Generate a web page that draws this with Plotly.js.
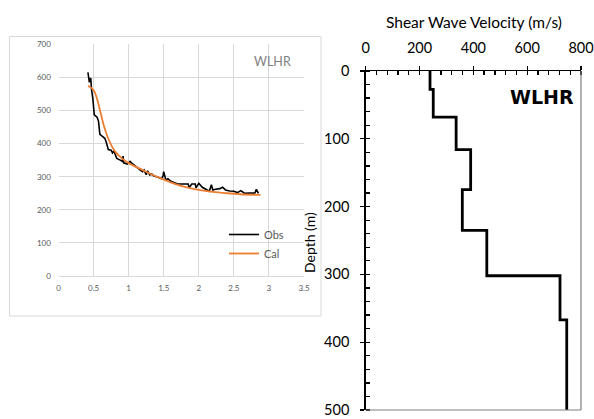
<!DOCTYPE html>
<html>
<head>
<meta charset="utf-8">
<script src="https://cdn.plot.ly/plotly-3.0.1.min.js"></script>
<style>html,body{margin:0;padding:0;background:#fff;}#chart{width:594px;height:419px;}</style>
</head>
<body>
<div id="chart"></div>
<script>
// Left panel: observed vs calculated (x = period, y = velocity)
const obsX = [0.42,0.44,0.46,0.47,0.49,0.51,0.55,0.57,0.59,0.62,0.66,0.68,0.71,0.75,0.77,0.79,0.81,0.83,0.88,0.91,0.92,0.93,0.98,1.02,1.04,1.08,1.12,1.15,1.18,1.2,1.22,1.25,1.27,1.3,1.33,1.36,1.4,1.44,1.47,1.49,1.5,1.53,1.56,1.6,1.65,1.7,1.75,1.8,1.85,1.86,1.9,1.95,1.96,2.0,2.05,2.1,2.15,2.18,2.2,2.24,2.3,2.34,2.38,2.44,2.5,2.55,2.6,2.65,2.7,2.76,2.8,2.82,2.85];
const obsY = [615,585,598,565,535,487,480,468,428,422,416,405,382,380,372,378,365,355,350,346,362,342,338,346,342,336,330,323,318,315,320,306,318,305,308,302,300,296,294,302,315,290,294,286,282,278,278,278,278,266,278,278,266,280,268,262,256,276,260,262,264,268,260,257,256,252,258,250,250,250,251,262,250];
const calX = [0.42,0.5,0.55,0.6,0.65,0.7,0.8,0.9,1.0,1.2,1.4,1.6,1.8,2.0,2.2,2.4,2.6,2.88];
const calY = [575,562,535,493,452,420,378,356,341,320,300,283,269,260,254,250,247,245];
const leftXTicks = [0,0.5,1,1.5,2,2.5,3,3.5];
const leftYTicks = [0,100,200,300,400,500,600,700];

// Right panel: shear wave velocity profile (step)
const profVel   = [239,239,251,251,336,336,390,390,359,359,450,450,722,722,747,747];
const profDepth = [0,27,27,68,68,116,116,175,175,235,235,302,302,367,367,500];
const rightXTicks = [0,200,400,600,800];
const rightYTicks = [0,100,200,300,400,500];

const W = 594, H = 419;
const px = v => v / W;
const py = v => 1 - v / H;

const grey = '#595959';
const grid = '#d9d9d9';
const font = 'Lato, "Noto Sans", sans-serif';

const traces = [
  {x: obsX, y: obsY, type: 'scatter', mode: 'lines', name: 'Obs',
   line: {color: '#000000', width: 1.6}, xaxis: 'x', yaxis: 'y'},
  {x: calX, y: calY, type: 'scatter', mode: 'lines', name: 'Cal', line: {color: '#ED7D31', width: 1.8, shape: 'spline'},
   xaxis: 'x', yaxis: 'y'},
  {x: profVel, y: profDepth, type: 'scatter', mode: 'lines', showlegend: false,
   line: {color: '#000000', width: 2.8}, xaxis: 'x2', yaxis: 'y2'}
];

const layout = {
  width: W, height: H,
  margin: {l: 0, r: 0, t: 0, b: 0},
  paper_bgcolor: '#ffffff', plot_bgcolor: 'rgba(0,0,0,0)',
  font: {family: font, color: '#000'},
  showlegend: true,
  legend: {x: px(224), y: py(220), xanchor: 'left', yanchor: 'top',
           bgcolor: 'rgba(0,0,0,0)', font: {size: 11, color: grey, family: font},
           tracegroupgap: 0, itemwidth: 30},
  xaxis: {domain: [px(58.5), px(304)], range: [0, 3.5], tickvals: leftXTicks,
          showgrid: true, gridcolor: grid, gridwidth: 1, zeroline: false,
          showline: true, linecolor: grid, linewidth: 1,
          ticks: 'outside', ticklen: 4, tickcolor: 'rgba(0,0,0,0)',
          tickfont: {size: 8, color: grey, family: font}, fixedrange: true},
  yaxis: {domain: [py(276), py(44.3)], range: [0, 700], tickvals: leftYTicks,
          showgrid: true, gridcolor: grid, gridwidth: 1, zeroline: false,
          showline: false, ticks: 'outside', ticklen: 5, tickcolor: 'rgba(0,0,0,0)',
          tickfont: {size: 8, color: grey, family: font}, fixedrange: true},
  xaxis2: {domain: [px(365.7), px(581)], range: [0, 800], tickvals: rightXTicks,
           side: 'top', anchor: 'y2', showgrid: false, zeroline: false,
           showline: true, linecolor: '#000', linewidth: 1.5,
           ticks: 'outside', ticklen: 4, tickwidth: 1.3, tickcolor: '#000',
           minor: {dtick: 40, ticks: 'inside', ticklen: 4, tickwidth: 1.3, tickcolor: '#000'},
           ticklabelstandoff: 7,
           tickfont: {size: 14.5, color: '#000', family: font}, fixedrange: true},
  xaxis3: {domain: [px(365.7), px(581)], range: [0, 800], tickvals: rightXTicks,
           side: 'top', anchor: 'y2', overlaying: 'x2', showgrid: false, zeroline: false,
           showline: false, showticklabels: false,
           ticks: 'inside', ticklen: 4, tickwidth: 1.3, tickcolor: '#000', fixedrange: true},
  yaxis2: {domain: [py(410), py(71)], range: [500, 0], tickvals: rightYTicks,
           anchor: 'x2', showgrid: false, zeroline: false,
           showline: true, linecolor: '#000', linewidth: 1.5,
           ticks: 'outside', ticklen: 4, tickwidth: 1.3, tickcolor: '#000',
           minor: {dtick: 20, ticks: 'inside', ticklen: 4, tickwidth: 1.3, tickcolor: '#000'},
           ticklabelstandoff: 8,
           tickfont: {size: 14.5, color: '#000', family: font}, fixedrange: true},
  yaxis3: {domain: [py(410), py(71)], range: [500, 0], tickvals: rightYTicks,
           anchor: 'x2', overlaying: 'y2', showgrid: false, zeroline: false,
           showline: false, showticklabels: false,
           ticks: 'inside', ticklen: 4, tickwidth: 1.3, tickcolor: '#000', fixedrange: true},
  shapes: [
    {type: 'rect', xref: 'paper', yref: 'paper', x0: px(9.5), x1: px(321), y0: py(316), y1: py(36.5),
     line: {color: '#d9d9d9', width: 1}, fillcolor: 'rgba(0,0,0,0)', layer: 'below'},
    {type: 'line', xref: 'x2 domain', yref: 'y2 domain', x0: 1, x1: 1, y0: 0, y1: 1,
     line: {color: '#808080', width: 1.2}},
    {type: 'line', xref: 'x2 domain', yref: 'y2 domain', x0: 0, x1: 1, y0: 0, y1: 0,
     line: {color: '#808080', width: 1.2}}
  ],
  annotations: [
    {text: 'WLHR', xref: 'paper', yref: 'paper', x: px(293), y: py(61), xanchor: 'right', yanchor: 'middle',
     showarrow: false, font: {size: 12.5, color: '#7f7f7f', family: font}},
    {text: '<b>WLHR</b>', xref: 'paper', yref: 'paper', x: px(576), y: py(97), xanchor: 'right', yanchor: 'middle',
     showarrow: false, font: {size: 19, color: '#000', family: '"DejaVu Sans", sans-serif'}},
    {text: 'Shear Wave Velocity (m/s)', xref: 'paper', yref: 'paper', x: px(474), y: py(22), xanchor: 'center', yanchor: 'middle',
     showarrow: false, font: {size: 15.5, color: '#000', family: font}},
    {text: 'Depth (m)', xref: 'paper', yref: 'paper', x: px(309), y: py(243), xanchor: 'center', yanchor: 'middle',
     textangle: -90, showarrow: false, font: {size: 14, color: '#000', family: font}}
  ]
};

Plotly.newPlot('chart', traces, layout, {staticPlot: true, displayModeBar: false});
</script>
</body>
</html>
